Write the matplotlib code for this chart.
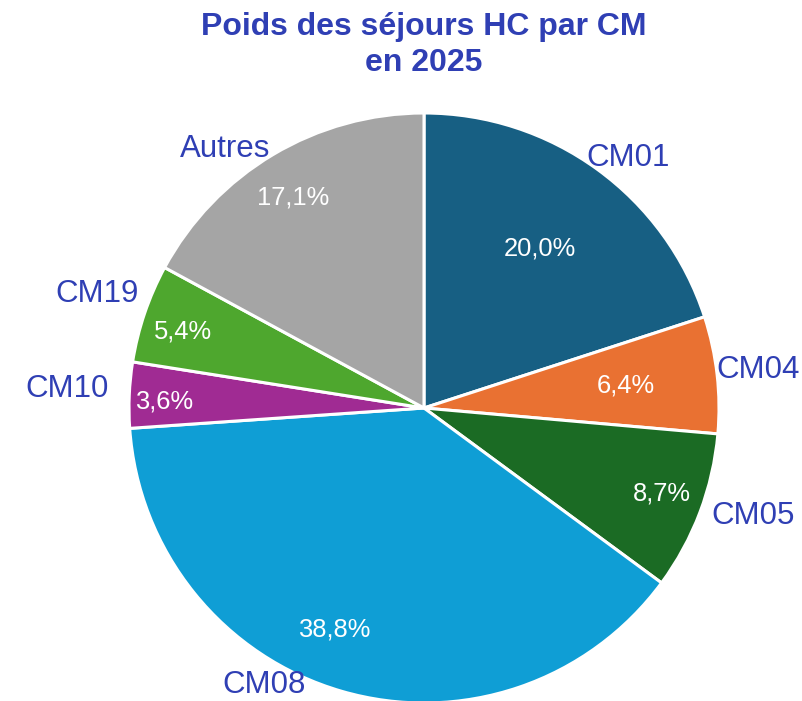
import numpy as np
import matplotlib
matplotlib.use('Agg')
import matplotlib.pyplot as plt

plt.rcParams['font.family'] = ['Liberation Sans', 'DejaVu Sans']

categories = ['CM01', 'CM04', 'CM05', 'CM08', 'CM10', 'CM19', 'Autres']
shares = [20.0, 6.4, 8.7, 38.8, 3.6, 5.4, 17.1]
colors = ['#175f83', '#e97132', '#1b6b24', '#0f9ed5', '#a02b93', '#4ea72e', '#a5a5a5']
title = 'Poids des séjours HC par CM\nen 2025'
blue = '#2f3fb4'

# label placement (radius fraction, angle shift in degrees), Excel-like
label_dist = [1.01, 1.0, 1.04, 1.02, 1.07, 1.04, 1.02]
label_shift = [3, 1, 0, -7, -1, -3, 0]
pct_dist = [0.67, 0.69, 0.855, 0.81, 0.88, 0.857, 0.84]
pct_shift = [0, 0, 1, -6, 1, 1, 1]

W, H = 803, 701
cx, cy, r = 424, 408, 295

fig = plt.figure(figsize=(W / 100, H / 100), dpi=100)
ax = fig.add_axes([(cx - r) / W, (H - cy - r) / H, 2 * r / W, 2 * r / H])

wedges, texts, autotexts = ax.pie(
    shares, labels=categories, colors=colors, startangle=90, counterclock=False,
    autopct=lambda p: f'{p:.1f}%'.replace('.', ','),
    radius=1, wedgeprops=dict(edgecolor='white', linewidth=2.2),
    textprops=dict(fontsize=22.5, color=blue))

for i, w in enumerate(wedges):
    w.set_clip_on(False)
    mid = (w.theta1 + w.theta2) / 2
    a = np.deg2rad(mid + label_shift[i])
    texts[i].set_position((label_dist[i] * np.cos(a), label_dist[i] * np.sin(a)))
    texts[i].set_ha('left' if np.cos(a) > 0 else 'right')
    texts[i].set_va('center')
    texts[i].set_clip_on(False)
    b = np.deg2rad(mid + pct_shift[i])
    autotexts[i].set_position((pct_dist[i] * np.cos(b), pct_dist[i] * np.sin(b)))
    autotexts[i].set_color('white')
    autotexts[i].set_fontsize(18.4)

ax.set_xlim(-1, 1)
ax.set_ylim(-1, 1)
ax.set_aspect('equal')
ax.axis('off')

fig.text(cx / W, 1 - 45 / H, title, ha='center', va='center', fontsize=23,
         fontweight='bold', color=blue, linespacing=1.28)

fig.savefig('out.png', dpi=100)
